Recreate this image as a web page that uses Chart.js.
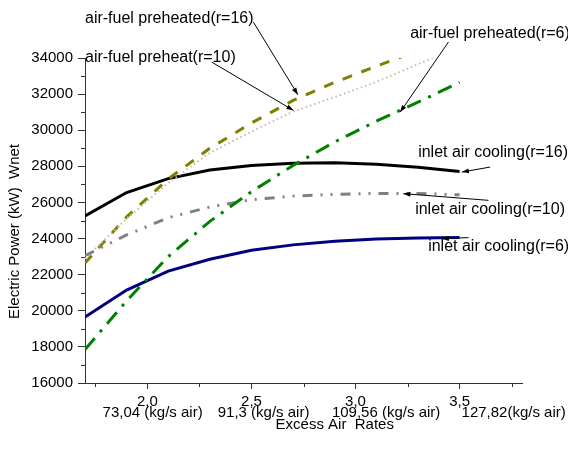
<!DOCTYPE html>
<html>
<head>
<meta charset="utf-8">
<script src="https://cdn.jsdelivr.net/npm/chart.js@4/dist/chart.umd.min.js"></script>
<style>
  html, body { margin: 0; padding: 0; background: #fff; }
  canvas { display: block; }
</style>
</head>
<body>
<canvas id="c" width="568" height="450"></canvas>
<script>
// ---- data ----
const excessAir = [1.7, 1.9, 2.1, 2.3, 2.5, 2.7, 2.9, 3.1, 3.3, 3.5];
const coolR16 = [25250, 26550, 27320, 27800, 28050, 28170, 28200, 28120, 27950, 27720];
const coolR10 = [23050, 24200, 25150, 25750, 26150, 26350, 26450, 26500, 26500, 26420];
const coolR6  = [19650, 21150, 22200, 22850, 23350, 23650, 23850, 23980, 24030, 24060];
const preR16  = [22650, 25200, 27300, 29000, 30400, 31650, 32650, 33550, 34400, 35200];
const preR10  = [22900, 25100, 27080, 28750, 29920, 31030, 31840, 32670, 33660, 34600];
const preR6   = [17850, 20550, 23000, 24950, 26600, 28050, 29350, 30500, 31550, 32650];

const xTickValues = [2.0, 2.5, 3.0, 3.5];
const xTickLabels = ["2,0", "2,5", "3,0", "3,5"];
const xMinorTicks = [1.75, 2.25, 2.75, 3.25, 3.75];
const massLabels = ["73,04 (kg/s air)", "91,3 (kg/s air)", "109,56 (kg/s air)", "127,82(kg/s air)"];
const yTickLabels = ["16000","18000","20000","22000","24000","26000","28000","30000","32000","34000"];

// layout anchors (data units) for second-row labels
const massLabelAt = [2.025, 2.558, 3.147, 3.760];

// annotations (anchored in data units)
const notes = [
  { text: "air-fuel preheated(r=16)", tx: 1.70, ty: 36193, from: [2.509, 35989], to: [2.7226, 31969] },
  { text: "air-fuel preheat(r=10)",   tx: 1.70, ty: 34034, from: [2.309, 33774], to: [2.7014, 31100] },
  { text: "air-fuel preheated(r=6)",  tx: 3.2625, ty: 35363, from: [3.4466, 34881], to: [3.2144, 31005] },
  { text: "inlet air cooling(r=16)",  tx: 3.301, ty: 28774, from: [3.647, 27960], to: [3.511, 27683] },
  { text: "inlet air cooling(r=10)",  tx: 3.2865, ty: 25618, from: [3.639, 26116], to: [3.230, 26487] },
  { text: "inlet air cooling(r=6)",   tx: 3.349, ty: 23530, from: [3.543, 24051], to: [3.415, 23995] }
];

const FONT = '"Liberation Sans", Arial, sans-serif';
const pts = arr => arr.map((v, i) => ({ x: excessAir[i], y: v }));

const overlay = {
  id: 'overlay',
  afterDraw(chart) {
    const ctx = chart.ctx;
    const xs = chart.scales.x, ys = chart.scales.y;
    const ca = chart.chartArea;
    ctx.save();
    // minor ticks
    ctx.strokeStyle = '#333';
    ctx.lineWidth = 1;
    ctx.beginPath();
    for (let v = 17000; v < 34000; v += 2000) {
      const py = Math.round(ys.getPixelForValue(v)) + 0.5;
      ctx.moveTo(ca.left, py); ctx.lineTo(ca.left - 4, py);
    }
    xMinorTicks.forEach(v => {
      const px = Math.round(xs.getPixelForValue(v)) + 0.5;
      ctx.moveTo(px, ca.bottom); ctx.lineTo(px, ca.bottom + 4);
    });
    ctx.stroke();

    // second-row x labels
    ctx.fillStyle = '#000';
    ctx.font = '15px ' + FONT;
    ctx.textAlign = 'center';
    ctx.textBaseline = 'middle';
    massLabels.forEach((t, i) => {
      ctx.fillText(t, xs.getPixelForValue(massLabelAt[i]), ca.bottom + 30);
    });
    // x title
    ctx.fillText('Excess Air  Rates', xs.getPixelForValue(2.9), ca.bottom + 42);

    // y title
    ctx.save();
    ctx.translate(ca.left - 70, (ca.top + ca.bottom) / 2 + 11);
    ctx.rotate(-Math.PI / 2);
    ctx.fillText('Electric Power (kW)  Wnet', 0, 0);
    ctx.restore();

    // annotations
    ctx.font = '16px ' + FONT;
    ctx.textAlign = 'left';
    notes.forEach(n => {
      ctx.fillStyle = '#000';
      ctx.fillText(n.text, xs.getPixelForValue(n.tx), ys.getPixelForValue(n.ty));
      const x1 = xs.getPixelForValue(n.from[0]), y1 = ys.getPixelForValue(n.from[1]);
      const x2 = xs.getPixelForValue(n.to[0]), y2 = ys.getPixelForValue(n.to[1]);
      ctx.strokeStyle = '#000';
      ctx.lineWidth = 1;
      ctx.beginPath(); ctx.moveTo(x1, y1); ctx.lineTo(x2, y2); ctx.stroke();
      const a = Math.atan2(y2 - y1, x2 - x1);
      const L = 7, W = 2.5;
      ctx.beginPath();
      ctx.moveTo(x2, y2);
      ctx.lineTo(x2 - L * Math.cos(a) + W * Math.sin(a), y2 - L * Math.sin(a) - W * Math.cos(a));
      ctx.lineTo(x2 - L * Math.cos(a) - W * Math.sin(a), y2 - L * Math.sin(a) + W * Math.cos(a));
      ctx.closePath();
      ctx.fill();
    });
    ctx.restore();
  }
};

new Chart(document.getElementById('c'), {
  type: 'line',
  data: {
    datasets: [
      { label: 'air-fuel preheated(r=6)', data: pts(preR6), borderColor: '#008000', borderWidth: 3, borderDash: [15, 8, 3, 8] },
      { label: 'inlet air cooling(r=6)', data: pts(coolR6), borderColor: '#000080', borderWidth: 3 },
      { label: 'inlet air cooling(r=10)', data: pts(coolR10), borderColor: '#808080', borderWidth: 3, borderDash: [10, 8, 2, 8, 2, 8] },
      { label: 'air-fuel preheat(r=10)', data: pts(preR10), borderColor: '#c2bea4', borderWidth: 2, borderDash: [1.5, 3] },
      { label: 'air-fuel preheated(r=16)', data: pts(preR16), borderColor: '#808000', borderWidth: 3, borderDash: [10, 10] },
      { label: 'inlet air cooling(r=16)', data: pts(coolR16), borderColor: '#000000', borderWidth: 3 }
    ]
  },
  options: {
    responsive: false,
    animation: false,
    layout: { padding: { top: 58, right: 46, left: 0, bottom: 0 } },
    elements: { point: { radius: 0 }, line: { tension: 0, fill: false, borderCapStyle: 'butt' } },
    plugins: { legend: { display: false }, tooltip: { enabled: false }, title: { display: false } },
    scales: {
      x: {
        type: 'linear', min: 1.7, max: 3.8,
        afterFit: s => { s.height = 67; },
        afterBuildTicks: s => { s.ticks = xTickValues.map(v => ({ value: v })); },
        grid: { drawOnChartArea: false, drawTicks: true, tickLength: 6, tickColor: '#333' },
        border: { color: '#333', width: 1 },
        ticks: {
          color: '#000', font: { family: FONT, size: 15 }, padding: 4, maxRotation: 0,
          callback: (v, i) => xTickLabels[i]
        }
      },
      y: {
        type: 'linear', min: 16000, max: 34000,
        afterFit: s => { s.width = 85; },
        afterBuildTicks: s => { s.ticks = yTickLabels.map(t => ({ value: Number(t) })); },
        grid: { drawOnChartArea: false, drawTicks: true, tickLength: 7, tickColor: '#333' },
        border: { color: '#333', width: 1 },
        ticks: {
          color: '#000', font: { family: FONT, size: 15 }, padding: 5,
          callback: (v, i) => yTickLabels[i]
        }
      }
    }
  },
  plugins: [overlay]
});
</script>
</body>
</html>
